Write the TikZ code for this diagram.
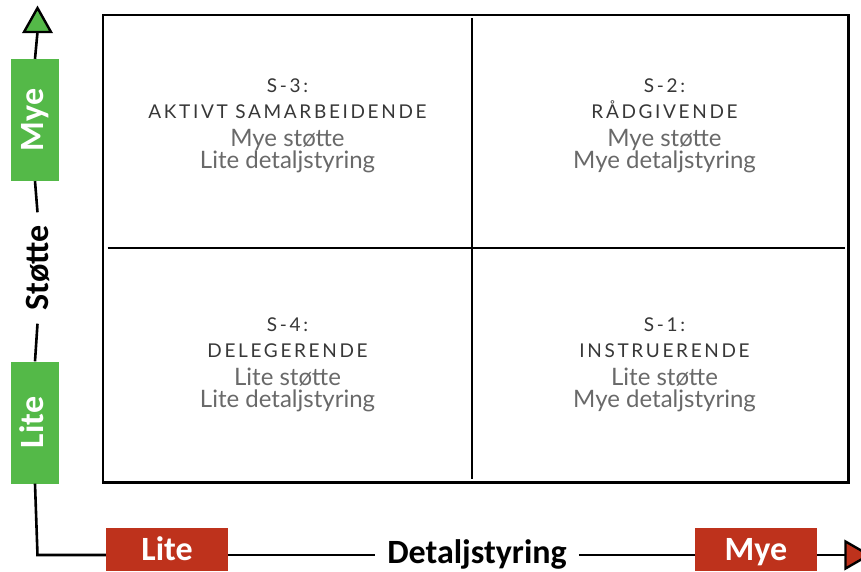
\documentclass[tikz,border=0pt]{standalone}
\usepackage{fontspec}
\setmainfont{Carlito}
\newfontfamily\quadfont{Lato}
\newfontfamily\quadtitle[LetterSpace=14]{Lato}
\definecolor{grn}{RGB}{84,185,72}
\definecolor{rd}{RGB}{190,50,28}
\definecolor{ttl}{RGB}{55,55,55}
\definecolor{bdy}{RGB}{105,105,105}
\newcommand{\quadrant}[7]{%
  \node[qtitle] (#1s) at (#2,#3) {#4};
  \node[qtitle] (#1t) at (#2,#3+26) {#5};
  \node[qbody] (#1b) at (#2,#3+54) {#6};
  \node[qbody] (#1c) at (#2,#3+76) {#7};}
\begin{document}
\begin{tikzpicture}[x=1pt,y=-1pt,
  axisline/.style={line width=2.6pt,black},
  gbox/.style={fill=grn,draw=none,rotate=90,minimum width=122pt,minimum height=48pt,inner sep=0pt,text=white,text height=22pt,text depth=5pt,font=\bfseries\fontsize{34}{34}\selectfont},
  rbox/.style={fill=rd,draw=none,minimum width=122pt,minimum height=43pt,inner sep=0pt,text=white,text height=22pt,text depth=0pt,font=\bfseries\fontsize{34}{34}\selectfont},
  axlabel/.style={inner xsep=12pt,inner ysep=0pt,text height=22pt,text depth=0pt,font=\bfseries\fontsize{34}{34}\selectfont},
  qtitle/.style={anchor=base,inner sep=0pt,text=ttl,font=\quadtitle\fontsize{19}{19}\selectfont},
  qbody/.style={anchor=base,inner sep=0pt,text=bdy,font=\quadfont\fontsize{24}{24}\selectfont},
  gridline/.style={line width=2.6pt,black},
  tri/.style={draw=black,line width=2.4pt,line join=miter}]
\useasboundingbox (0,0) rectangle (861,571);
% grid
\draw[gridline] (103,15) rectangle (848.5,482.5);
\draw[gridline] (472,18) -- (472,479);
\draw[gridline] (107.5,248) -- (845,248);
% vertical axis
\coordinate (corner) at (37.5,555);
\coordinate (uptip) at (37.5,8);
\coordinate (upbase) at (37.5,32);
\node[gbox] (gmye) at (35,120) {Mye};
\node[gbox] (glite) at (35,422.5) {Lite};
\node[axlabel,rotate=90,inner xsep=13pt] (stotte) at (37.5,268) {Støtte};
\draw[axisline] (gmye.east) -- (upbase);
\draw[tri,fill=grn] (24,32) -- (uptip) -- (51,32) -- cycle;
\draw[axisline] (gmye.west) -- (stotte.east);
\draw[axisline] (stotte.west) -- (glite.east);
% horizontal axis
\node[rbox] (rlite) at (167,549.5) {Lite};
\node[rbox] (rmye) at (756,549.5) {Mye};
\node[axlabel] (detal) at (477,552) {Detaljstyring};
\coordinate (rtbase) at (845.5,555);
\coordinate (rttip) at (869,555);
\draw[axisline] (glite.west) -- (corner) -- (rlite.west |- corner);
\draw[axisline] (rlite.east |- corner) -- (detal.west |- corner);
\draw[axisline] (detal.east |- corner) -- (rmye.west |- corner);
\draw[axisline] (rmye.east |- corner) -- (rtbase);
\draw[tri,fill=rd] (845.5,541.5) -- (rttip) -- (845.5,568.5) -- cycle;
% quadrant texts
\quadrant{q3}{287.5}{92}{S-3:}{AKTIVT SAMARBEIDENDE}{Mye støtte}{Lite detaljstyring}
\quadrant{q2}{664.5}{92}{S-2:}{RÅDGIVENDE}{Mye støtte}{Mye detaljstyring}
\quadrant{q4}{287.5}{331}{S-4:}{DELEGERENDE}{Lite støtte}{Lite detaljstyring}
\quadrant{q1}{664.5}{331}{S-1:}{INSTRUERENDE}{Lite støtte}{Mye detaljstyring}
\end{tikzpicture}
\end{document}
